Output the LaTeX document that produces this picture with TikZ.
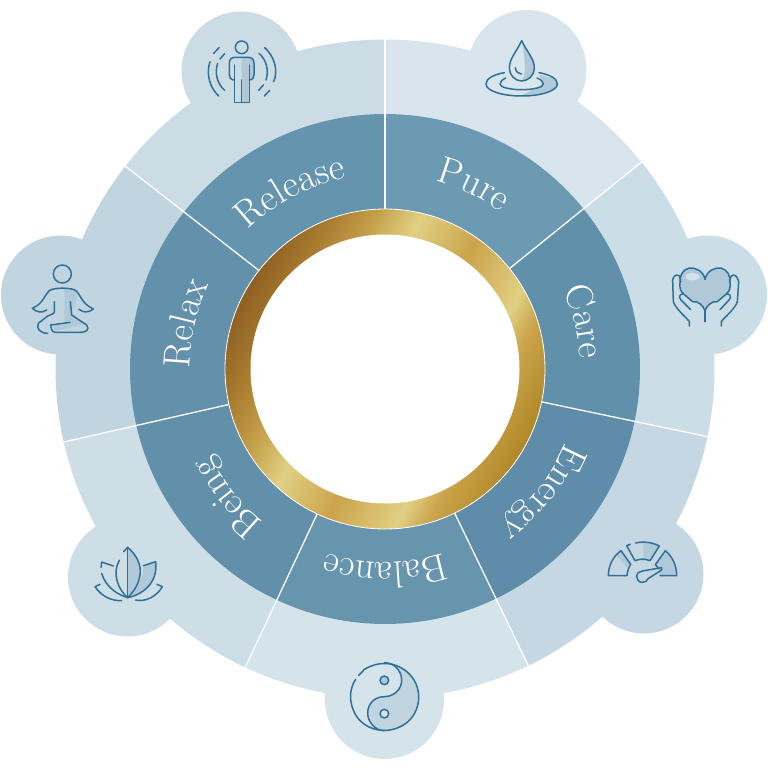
\documentclass[tikz,border=0pt]{standalone}
\usetikzlibrary{decorations.text}
\definecolor{segA}{HTML}{CBDCE5}\definecolor{segB}{HTML}{D8E5EC}\definecolor{segC}{HTML}{CBDDE6}
\definecolor{segD}{HTML}{C5D7E2}\definecolor{segE}{HTML}{D5E3EA}\definecolor{segF}{HTML}{CDDEE7}\definecolor{segG}{HTML}{C1D5E1}
\definecolor{midA}{HTML}{6594AE}\definecolor{midB}{HTML}{6C9AB2}\definecolor{midC}{HTML}{6190AB}
\definecolor{midD}{HTML}{5E8CA9}\definecolor{midE}{HTML}{6895AE}\definecolor{midF}{HTML}{6290AB}\definecolor{midG}{HTML}{6391AC}
\definecolor{iconline}{HTML}{2F7196}\definecolor{iconfill}{HTML}{AFC9D9}
\definecolor{goldA}{HTML}{8F5F22}\definecolor{goldA2}{HTML}{A87C30}\definecolor{goldA3}{HTML}{C6A049}\definecolor{goldB}{HTML}{E0D083}\definecolor{goldC}{HTML}{CBA44C}\definecolor{goldD}{HTML}{B08828}
\pgfdeclarehorizontalshading{goldring}{100bp}{color(0bp)=(goldA);color(25bp)=(goldA);color(31.25bp)=(goldA2);color(37.5bp)=(goldA3);color(43.75bp)=(goldB);color(53.1bp)=(goldC);color(63.1bp)=(goldB);color(67.2bp)=(goldC);color(75bp)=(goldD);color(100bp)=(goldD)}
\tikzset{
  iconframe/.style 2 args={shift={(#1pt,-#2pt)},x=.33333pt,y=-.33333pt},
  icon/.style={draw=iconline,line width=1.5pt,line cap=round,line join=round},
  iconshade/.style={fill=iconfill,draw=none},
  divider/.style={draw=white,line width=1.3pt},
  wordarc/.style={decorate,decoration={text along path,text align=center,text={|\fontsize{38}{38}\selectfont\color{white}|#1}}}
}
\begin{document}
\begin{tikzpicture}[x=1pt,y=1pt]
\useasboundingbox (0,0) rectangle (768,-768);
\begin{scope}[shift={(385pt,-369pt)}]
  % outer band, then the inner band
  \foreach \st/\en/\co/\mi in {90/38.9/segB/midB,38.9/-11.85/segC/midC,-11.85/-64.2/segD/midD,-64.2/-115.1/segE/midE,-115.1/-167.2/segF/midF,-167.2/-218/segG/midG,-218/-270/segA/midA}{
    \fill[\co] (\st:329.5) arc[start angle=\st,end angle=\en,radius=329.5] -- (0,0) -- cycle;
    \fill[\mi] (\st:255) arc[start angle=\st,end angle=\en,radius=255] -- (0,0) -- cycle;
  }
\end{scope}
% icon discs
\foreach \cx/\cy/\co in {527/69.5/segB,707.5/295/segC,644/574/segD,384.5/699.5/segE,127.5/577/segF,60.5/295/segG,241/71/segA}{
  \fill[\co] (\cx,-\cy) circle[radius=59.5];
}
\begin{scope}[shift={(385pt,-369pt)}]
  \foreach \st in {90,38.9,-11.85,-64.2,-115.1,-167.2,-218}{
    \draw[divider] (\st:150) -- (\st:329.5);
  }
  % gold ring
  \shade[shading=goldring,shading angle=-28] (0,0) circle[radius=160];
  \draw[white,line width=.8pt] (0,0) circle[radius=160];
  \fill[white] (0,0) circle[radius=134.5];
  % words
  \foreach \wrd/\mang/\rad in {Pure/64.29/195,Care/13.5/195,Energy/-38/195,Balance/-90/193,Being/-141/195,Relax/167/195,Release/118/195}{
    \path[wordarc=\wrd] (\mang+50:\rad) arc[start angle=\mang+50,end angle=\mang-50,radius=\rad];
  }
\end{scope}

% Release: figure
\begin{scope}[iconframe={180}{0}]
  \fill[iconshade] (185,172) -- (205,172) .. controls (222,172) and (222,180) .. (222,190) -- (222,225) .. controls (222,238) and (215,240) .. (208,240) -- (208,307) -- (185,307) -- cycle;
  \draw[icon] (185,142) circle[radius=19];
  \draw[icon] (163,240) .. controls (152,240) and (148,232) .. (148,225) -- (148,190) .. controls (148,178) and (155,172) .. (165,172) -- (205,172) .. controls (215,172) and (222,178) .. (222,190) -- (222,225) .. controls (222,232) and (218,240) .. (208,240);
  \draw[icon] (163,195) -- (163,307) -- (208,307) -- (208,195);
  \draw[icon] (185,240) -- (185,307);
  \draw[icon] (90,185) .. controls (78,220) and (88,262) .. (116,288);
  \draw[icon] (113,190) .. controls (103,220) and (112,252) .. (134,271);
  \draw[icon] (101,160) -- (117,143);
  \draw[icon] (120,177) -- (134,161);
  \draw[icon] (254,143) .. controls (285,170) and (295,215) .. (281,245);
  \draw[icon] (237,160) .. controls (258,178) and (268,210) .. (258,240);
  \draw[icon] (250,255) -- (236,271);
  \draw[icon] (269,271) -- (253,288);
\end{scope}

% Pure: drop and ripples
\begin{scope}[iconframe={465}{0}]
  \fill[iconshade] (170,122) .. controls (185,150) and (208,175) .. (208,205) .. controls (208,225) and (192,243) .. (170,243) .. controls (185,225) and (180,170) .. (170,122) -- cycle;
  \fill[iconshade] (222,225) .. controls (255,230) and (277,240) .. (277,252) .. controls (277,272) and (220,288) .. (165,288) .. controls (200,270) and (225,262) .. (235,250) .. controls (232,240) and (225,235) .. (222,225) -- cycle;
  \draw[icon] (170,122) .. controls (155,155) and (133,175) .. (133,205) .. controls (133,225) and (150,243) .. (170,243) .. controls (190,243) and (208,225) .. (208,205) .. controls (208,175) and (185,155) .. (170,122) -- cycle;
  \draw[icon] (151,203) .. controls (152,215) and (160,222) .. (169,222);
  \draw[icon] (118,218) .. controls (85,224) and (63,236) .. (63,252) .. controls (63,272) and (110,288) .. (170,288) .. controls (230,288) and (277,272) .. (277,252) .. controls (277,236) and (255,224) .. (222,218);
  \draw[icon] (122,234) .. controls (112,239) and (105,245) .. (105,252) .. controls (105,262) and (135,269) .. (170,269) .. controls (205,269) and (235,262) .. (235,252) .. controls (235,245) and (228,239) .. (216,234);
\end{scope}

% Care: heart in hands
\begin{scope}[iconframe={650}{240}]
  \fill[iconshade] (165,118) .. controls (160,92) and (135,82) .. (118,84) .. controls (98,88) and (88,108) .. (90,128) .. controls (88,145) and (92,155) .. (100,160) -- (130,185) .. controls (148,185) and (160,200) .. (165,212) .. controls (170,200) and (182,185) .. (200,185) -- (230,160) .. controls (240,155) and (242,145) .. (240,128) .. controls (242,108) and (232,88) .. (212,84) .. controls (195,82) and (170,92) .. (165,118) -- cycle;
  \fill[white,opacity=.45] (127,110) ellipse[x radius=21,y radius=11];
  \draw[icon] (165,118) .. controls (160,92) and (135,82) .. (118,84) .. controls (98,88) and (88,108) .. (90,128) .. controls (88,145) and (92,155) .. (100,160);
  \draw[icon] (165,118) .. controls (170,92) and (195,82) .. (212,84) .. controls (232,88) and (242,108) .. (240,128) .. controls (242,145) and (238,155) .. (230,160);
  \draw[icon] (122,209) -- (92,179) .. controls (84,170) and (92,158) .. (102,163) -- (128,185) .. controls (145,182) and (160,198) .. (165,212) .. controls (170,198) and (185,182) .. (202,185) -- (228,163) .. controls (238,158) and (246,170) .. (238,179) -- (210,209);
  \draw[icon] (165,212) -- (165,245);
  \draw[icon] (118,258) -- (118,245) .. controls (112,235) and (75,205) .. (70,185) -- (68,120) .. controls (70,108) and (78,102) .. (87,107) .. controls (90,110) and (91,116) .. (92,125);
  \draw[icon] (214,258) -- (214,245) .. controls (220,235) and (257,205) .. (262,185) -- (266,125) .. controls (262,108) and (254,102) .. (245,107) .. controls (241,110) and (240,116) .. (239,125);
\end{scope}

% Energy: gauge
\begin{scope}[iconframe={590}{520}]
  \fill[iconshade] (80,106) -- (93,92) -- (122,133) -- (110,143) -- cycle;
  \fill[iconshade] (160,66) .. controls (178,66) and (194,71) .. (208,78) -- (180,122) .. controls (175,119) and (168,118) .. (160,118) -- cycle;
  \fill[iconshade] (226,92) .. controls (248,110) and (260,138) .. (260,167) -- (210,167) .. controls (210,155) and (205,142) .. (196,134) -- cycle;
  \draw[icon] (111,167) -- (55,167) .. controls (55,138) and (68,110) .. (93,92) -- (122,133) .. controls (116,142) and (112,154) .. (111,167);
  \draw[icon] (110,77) -- (135,122) .. controls (150,116) and (165,116) .. (180,122) -- (208,78) .. controls (185,66) and (160,64) .. (137,69);
  \draw[icon] (110,77) -- (121,73);
  \draw[icon] (210,167) -- (260,167) .. controls (260,138) and (248,110) .. (226,92) -- (196,134) .. controls (200,137) and (202,141) .. (204,146);
  \draw[icon] (215,143) -- (215,150) -- (174,176) .. controls (172,184) and (164,187) .. (157,187) .. controls (147,187) and (140,179) .. (140,170) .. controls (140,160) and (148,153) .. (157,153) -- cycle;
\end{scope}

% Balance: yin-yang
\begin{scope}[iconframe={330}{650}]
  \fill[fill=segG] (163,38) .. controls (195,38) and (215,65) .. (215,90) .. controls (215,120) and (190,140) .. (163,140) .. controls (135,140) and (113,160) .. (113,190) .. controls (113,215) and (135,242) .. (163,242) .. controls (220,242) and (265,195) .. (265,140) .. controls (265,85) and (220,38) .. (163,38) -- cycle;
  \draw[icon] (100,60) .. controls (150,28) and (205,38) .. (238,72) .. controls (285,120) and (270,200) .. (215,228) .. controls (160,258) and (90,235) .. (70,180) .. controls (55,145) and (62,110) .. (77,88);
  \draw[icon] (86,76) -- (100,62);
  \draw[icon] (163,38) .. controls (195,38) and (215,65) .. (215,90) .. controls (215,120) and (190,140) .. (163,140) .. controls (135,140) and (113,160) .. (113,190) .. controls (113,215) and (135,242) .. (163,242);
  \draw[icon,fill=iconfill] (163,91) circle[radius=13];
  \draw[icon,fill=segE] (163,191) circle[radius=13];
\end{scope}

% Being: lotus
\begin{scope}[iconframe={75}{525}]
  \fill[iconshade] (158,67) .. controls (185,90) and (200,120) .. (195,150) .. controls (190,185) and (170,205) .. (158,218) -- cycle;
  \fill[iconshade] (205,122) -- (242,110) .. controls (250,170) and (220,205) .. (158,218) .. controls (190,190) and (205,160) .. (205,122) -- cycle;
  \draw[icon] (146,80) -- (158,67) .. controls (185,90) and (200,120) .. (195,150) .. controls (190,185) and (170,205) .. (158,218) .. controls (130,195) and (110,145) .. (133,106);
  \draw[icon] (158,67) -- (158,218);
  \draw[icon] (115,123) -- (80,111) -- (78,127);
  \draw[icon] (80,145) .. controls (92,185) and (125,208) .. (158,218) .. controls (200,210) and (250,175) .. (242,110) -- (205,122);
  \draw[icon] (75,178) -- (60,185) .. controls (80,215) and (110,228) .. (140,227);
  \draw[icon] (246,178) -- (262,185) .. controls (245,215) and (210,232) .. (182,225);
\end{scope}

% Relax: seated figure
\begin{scope}[iconframe={10}{250}]
  \fill[iconshade] (163,113) .. controls (180,113) and (192,116) .. (198,122) .. controls (205,130) and (200,160) .. (183,180) -- (185,195) -- (226,222) -- (135,243) -- (130,225) -- (180,217) -- (163,217) -- cycle;
  \draw[icon] (157,72) circle[radius=27];
  \draw[icon] (110,180) .. controls (95,190) and (80,187) .. (67,175) .. controls (100,160) and (100,140) .. (118,122) .. controls (130,112) and (185,112) .. (198,122) .. controls (215,140) and (215,160) .. (250,177) .. controls (237,187) and (222,190) .. (207,178);
  \draw[icon] (133,155) -- (133,185) .. controls (133,192) and (120,195) .. (113,198) -- (85,220) .. controls (78,235) and (90,250) .. (113,250);
  \draw[icon] (181,155) -- (185,195) -- (230,225) .. controls (240,240) and (228,247) .. (210,247) -- (135,247) .. controls (125,245) and (123,235) .. (122,225) -- (180,217);
\end{scope}
\end{tikzpicture}
\end{document}
